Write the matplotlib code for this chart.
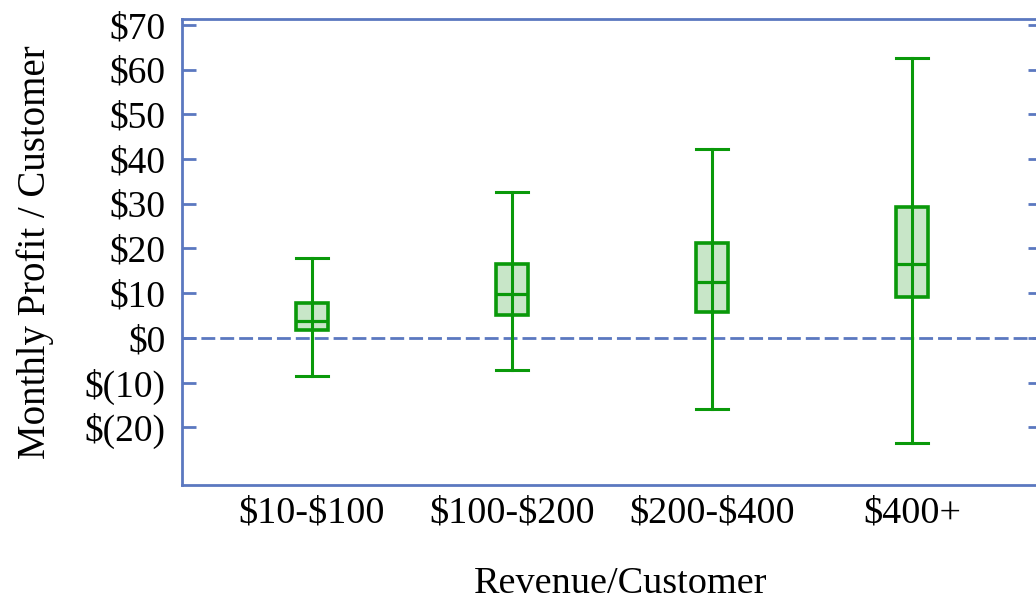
import matplotlib
matplotlib.use("Agg")
import matplotlib.pyplot as plt

# Revenue bands and the profit distribution per band (monthly $ per customer)
categories = ["$10-$100", "$100-$200", "$200-$400", "$400+"]
whisker_low = [-8.5, -7.2, -16.0, -23.5]
q1 = [1.7, 5.1, 5.7, 9.1]
median = [3.7, 9.75, 12.4, 16.6]
q3 = [7.8, 16.4, 21.1, 29.3]
whisker_high = [17.9, 32.7, 42.2, 62.5]

y_ticks = [-20, -10, 0, 10, 20, 30, 40, 50, 60, 70]
y_tick_labels = ["$(20)", "$(10)", "$0", "$10", "$20", "$30", "$40", "$50", "$60", "$70"]

axis_blue = "#5B78C0"
green = "#0A990A"
fill_green = "#C8E6C8"

plt.rcParams["font.family"] = ["Liberation Serif", "DejaVu Serif"]
plt.rcParams["text.parse_math"] = False

fig = plt.figure(figsize=(10.36, 6.01), dpi=100)
ax = fig.add_axes([182 / 1036, 116.5 / 601, 860 / 1036, 465.5 / 601])

stats = []
for i, lab in enumerate(categories):
    stats.append(dict(label=lab, whislo=whisker_low[i], q1=q1[i], med=median[i],
                      q3=q3[i], whishi=whisker_high[i], fliers=[]))

ax.axhline(0, color=axis_blue, lw=2.0, dashes=(5, 1.8), zorder=1)

ax.bxp(stats, positions=range(len(categories)), widths=0.16, patch_artist=True,
       showfliers=False,
       boxprops=dict(facecolor=fill_green, edgecolor=green, linewidth=2.6),
       medianprops=dict(color=green, linewidth=2.3),
       whiskerprops=dict(color=green, linewidth=2.2),
       capprops=dict(color=green, linewidth=2.2),
       capwidths=0.16, zorder=3)

# the whisker line runs straight through each box
for i in range(len(categories)):
    ax.plot([i, i], [q1[i], q3[i]], color=green, lw=2.2, zorder=4)

ax.set_xlim(-0.65, 3.65)
ax.set_ylim(-32.8, 71.3)
ax.set_yticks(y_ticks)
ax.set_yticklabels(y_tick_labels)
ax.set_xticks(range(len(categories)))
ax.set_xticklabels(categories)

for s in ax.spines.values():
    s.set_color(axis_blue)
    s.set_linewidth(2.0)

ax.tick_params(axis="y", direction="in", length=10, width=2.0, color=axis_blue,
               left=True, right=True, labelsize=27, pad=12, labelcolor="black")
ax.tick_params(axis="x", length=0, labelsize=27.5, pad=8, labelcolor="black")

ax.set_xlabel("Revenue/Customer", fontsize=27.5)
ax.xaxis.set_label_coords((621 - 182) / 860, -0.177)
ax.set_ylabel("Monthly Profit / Customer", fontsize=28, labelpad=22)

fig.savefig("out.png", dpi=100)
